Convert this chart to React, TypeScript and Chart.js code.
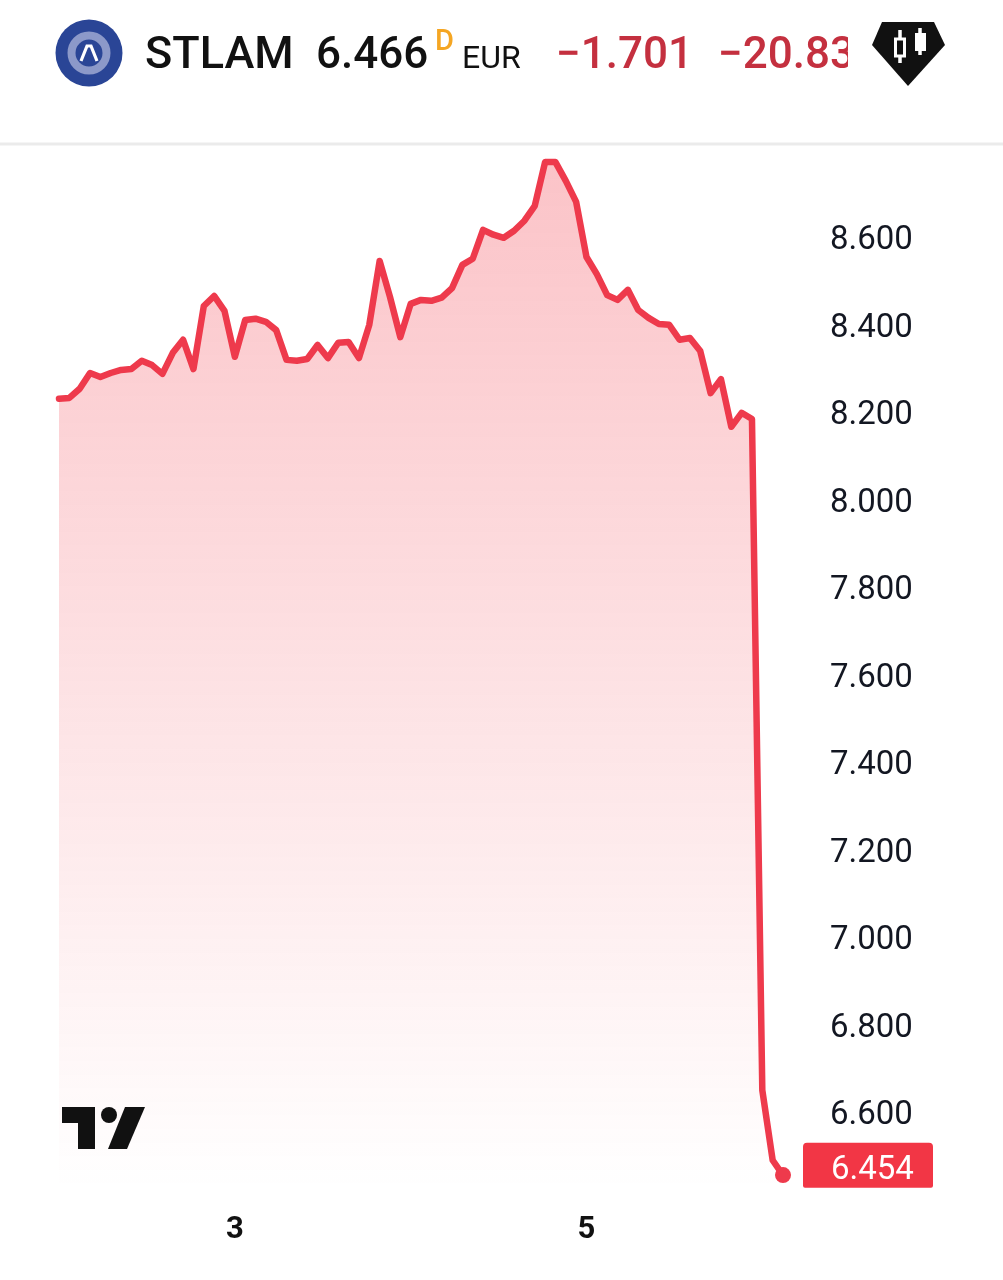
import React, { useEffect, useRef } from "react";
import { Chart, registerables } from "chart.js";

Chart.register(...registerables);

const symbol = "STLAM";
const lastPrice = "6.466";
const interval = "D";
const currency = "EUR";
const change = "−1.701";
const changePct = "−20.83%";
const currentLabel = "6.454";

const priceValues = [
  8.230, 8.232, 8.253, 8.289, 8.280, 8.289, 8.296, 8.298, 8.317, 8.307,
  8.287, 8.335, 8.365, 8.298, 8.442, 8.465, 8.431, 8.326, 8.410, 8.413,
  8.406, 8.387, 8.319, 8.317, 8.321, 8.353, 8.323, 8.358, 8.360, 8.323,
  8.399, 8.545, 8.463, 8.371, 8.447, 8.456, 8.454, 8.461, 8.483, 8.536,
  8.550, 8.616, 8.605, 8.598, 8.614, 8.637, 8.671, 8.771, 8.771, 8.728,
  8.680, 8.554, 8.515, 8.467, 8.456, 8.479, 8.433, 8.415, 8.401, 8.399,
  8.365, 8.369, 8.339, 8.243, 8.275, 8.166, 8.198, 8.184, 6.650, 6.490,
  6.456,
];
const dateTickIndexes = [17, 51];
const dateTickLabels = ["3", "5"];
const priceTicks = [8.6, 8.4, 8.2, 8.0, 7.8, 7.6, 7.4, 7.2, 7.0, 6.8, 6.6];
const axisMin = 6.422;
const axisMax = 8.81;
const tagValue = 6.475;

const RED = "#EE3A4C";

const priceTagPlugin = {
  id: "priceTag",
  afterDraw(chart: any) {
    const { ctx } = chart;
    const y = chart.scales.y.getPixelForValue(tagValue);
    ctx.save();
    ctx.fillStyle = "#F23645";
    ctx.beginPath();
    ctx.roundRect(803, y - 24, 130, 45, [4, 4, 2, 2]);
    ctx.fill();
    ctx.fillStyle = "#ffffff";
    ctx.font = "400 33px Roboto";
    ctx.textBaseline = "middle";
    ctx.textAlign = "left";
    ctx.fillText(currentLabel, 831, y + 3.5);
    ctx.restore();
  },
};

export default function App() {
  const ref = useRef<HTMLCanvasElement>(null);
  useEffect(() => {
    const chart = new Chart(ref.current!, {
      type: "line",
      data: {
        labels: priceValues.map((_, i) => {
          const k = dateTickIndexes.indexOf(i);
          return k >= 0 ? dateTickLabels[k] : "";
        }),
        datasets: [
          {
            data: priceValues,
            borderColor: RED,
            borderWidth: 6.5,
            borderJoinStyle: "round",
            borderCapStyle: "round",
            tension: 0,
            clip: false,
            fill: "start",
            backgroundColor: (c: any) => {
              const area = c.chart.chartArea;
              if (!area) return "rgba(242,54,69,0.28)";
              const g = c.chart.ctx.createLinearGradient(0, area.top, 0, area.bottom);
              g.addColorStop(0, "rgba(242,54,69,0.30)");
              g.addColorStop(1, "rgba(242,54,69,0)");
              return g;
            },
            pointRadius: priceValues.map((_, i) => (i === priceValues.length - 1 ? 8 : 0)),
            pointBackgroundColor: RED,
            pointBorderWidth: 0,
          },
        ],
      },
      options: {
        animation: false,
        responsive: false,
        layout: { padding: { left: 59, top: 145, right: 0, bottom: 0 } },
        plugins: { legend: { display: false }, tooltip: { enabled: false } },
        scales: {
          x: {
            type: "category",
            offset: false,
            grid: { display: false },
            border: { display: false },
            afterFit: (s: any) => {
              s.height = 90;
            },
            ticks: {
              autoSkip: false,
              maxRotation: 0,
              padding: 14,
              color: "#111111",
              font: { family: "Roboto", size: 31, weight: "bold" },
            },
          },
          y: {
            position: "right",
            min: axisMin,
            max: axisMax,
            grid: { display: false },
            border: { display: false },
            afterFit: (s: any) => {
              s.width = 220;
            },
            afterBuildTicks: (s: any) => {
              s.ticks = priceTicks.map((value) => ({ value }));
            },
            ticks: {
              padding: 39,
              color: "#131722",
              font: { family: "Roboto", size: 33, lineHeight: "8px" },
              callback: (v: any) => ["", Number(v).toFixed(3)],
            },
          },
        },
      },
      plugins: [priceTagPlugin],
    } as any);
    return () => chart.destroy();
  }, []);

  return (
    <div style={{ position: "absolute", left: 0, top: 0, width: 1003, height: 1280, background: "#fff", overflow: "hidden" }}>
      <canvas ref={ref} width={1003} height={1280} style={{ position: "absolute", left: 0, top: 0, width: 1003, height: 1280 }} />
      <svg width={1003} height={1280} style={{ position: "absolute", left: 0, top: 0, fontFamily: "Roboto" }}>
        <defs>
          <clipPath id="pct">
            <rect x={700} y={0} width={148} height={120} />
          </clipPath>
        </defs>
        <rect x={0} y={142.5} width={1003} height={3} fill="#ebebeb" />
        <circle cx={89} cy={53} r={33.5} fill="#2A4596" />
        <circle cx={89} cy={53} r={17.5} fill="none" stroke="#8C99C9" strokeWidth={8} />
        <path d="M81 61 L87 46 H91 L97 61" fill="none" stroke="#fff" strokeWidth={3.2} />
        <text x={145} y={68} fontSize={45} fontWeight={500} fill="#111111">{symbol}</text>
        <text x={316} y={68} fontSize={44} fontWeight={500} fill="#111111">{lastPrice}</text>
        <text x={435} y={50} fontSize={29} fontWeight={500} fill="#F5A623">{interval}</text>
        <text x={462} y={68} fontSize={32} fill="#111111">{currency}</text>
        <text x={556} y={68} fontSize={44} fontWeight={500} fill="#C4303F">{change}</text>
        <text x={718} y={68} fontSize={44} fontWeight={500} fill="#C4303F" clipPath="url(#pct)">{changePct}</text>
        <path d="M882 22 H934 L945 45 L908 86 L872 45 Z" fill="#111" />
        <path d="M900 30 V63 M920 28 V55" stroke="#fff" strokeWidth={3.5} />
        <rect x={895.5} y={39} width={9} height={17} fill="#111" stroke="#fff" strokeWidth={3} />
        <rect x={915} y={33} width={11} height={18} fill="#fff" />
        <path d="M62 1107 H95 V1149 H78 V1123 H62 Z" fill="#111" />
        <circle cx={109} cy={1115} r={8} fill="#111" />
        <path d="M125 1107 H145 L127 1149 H108 Z" fill="#111" />
      </svg>
    </div>
  );
}
